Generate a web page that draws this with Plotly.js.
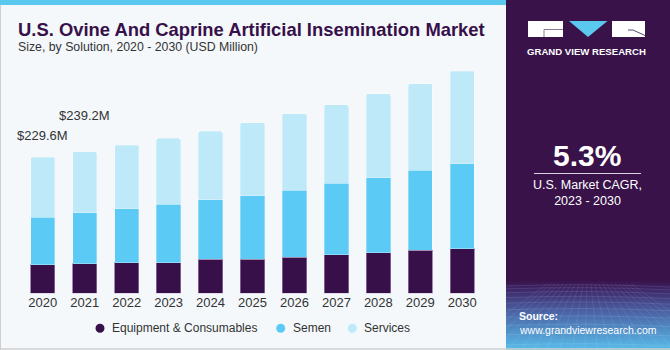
<!DOCTYPE html>
<html>
<head>
<meta charset="utf-8">
<script src="https://cdn.plot.ly/plotly-3.0.1.min.js"></script>
<style>
html,body{margin:0;padding:0;background:#F4F8FB;}
#chart{width:670px;height:350px;}
</style>
</head>
<body>
<div id="chart"></div>
<script>
// ---- data ----
var years = ['2020','2021','2022','2023','2024','2025','2026','2027','2028','2029','2030'];
var seriesNames = ['Equipment & Consumables','Semen','Services'];
var equipment = [47.8, 49.5, 51.7, 51.7, 57.9, 57.9, 60.8, 65.2, 68.5, 72.6, 75.3];
var semen     = [81.0, 86.1, 91.2, 98.6, 100.1, 106.9, 113.6, 120.5, 126.6, 135.1, 143.5];
var services  = [100.8, 103.6, 107.5, 111.4, 115.5, 123.2, 128.8, 132.7, 141.8, 146.2, 156.5];
var labeledYears = ['2020','2021'];
var cagrText = '5.3%';
var cagrLabel = 'U.S. Market CAGR,<br>2023 - 2030';
var titleText = 'U.S. Ovine And Caprine Artificial Insemination Market';
var subtitleText = 'Size, by Solution, 2020 - 2030 (USD Million)';

// ---- styling ----
var W = 670, H = 350;
function px(x){return x/W;}
function py(y){return 1 - y/H;}
var colors = ['#37104A','#5BCBF5','#BDE9F8'];
var baseFont = 'Liberation Sans, Arial, sans-serif';
var seriesVals = [equipment, semen, services];

var traces = seriesVals.map(function(v,i){
  return {
    type:'bar', x:years, y:v, name:seriesNames[i],
    marker:{color:colors[i], line:{width:i===0?1:0.6, color:i===0?'rgba(140,110,160,0.8)':'rgba(255,255,255,0.5)'}},
    showlegend:false, hoverinfo:'skip'
  };
});

var totals = years.map(function(_,k){return equipment[k]+semen[k]+services[k];});
var labelShift = [22, 36];

var annotations = [];
labeledYears.forEach(function(yr,i){
  var k = years.indexOf(yr);
  annotations.push({x:k, y:totals[k], xref:'x', yref:'y', text:'$'+totals[k].toFixed(1)+'M',
    showarrow:false, yshift:labelShift[i], yanchor:'middle', xanchor:'center',
    font:{family:baseFont, size:13, color:'#333333'}});
});
// title & subtitle
annotations.push({xref:'paper', yref:'paper', x:px(16), y:py(29.5), xanchor:'left', yanchor:'middle',
  text:'<b>'+titleText+'</b>', showarrow:false, font:{family:baseFont, size:18.4, color:'#37104A'}});
annotations.push({xref:'paper', yref:'paper', x:px(16), y:py(47.5), xanchor:'left', yanchor:'middle',
  text:subtitleText, showarrow:false, font:{family:baseFont, size:12.3, color:'#333333'}});
// legend (manual)
var legX = [100, 280.7, 352.3];
var shapes = [];
seriesNames.forEach(function(n,i){
  annotations.push({xref:'paper', yref:'paper', x:px(legX[i]+10), y:py(328), xanchor:'left', yanchor:'middle',
    text:n, showarrow:false, font:{family:baseFont, size:12, color:'#333333'}});
  shapes.push({type:'circle', xref:'paper', yref:'paper', x0:px(legX[i]-4.5), x1:px(legX[i]+4.5),
    y0:py(332.8), y1:py(323.8), fillcolor:colors[i], line:{width:0}, layer:'above'});
});
// right panel texts
annotations.push({xref:'paper', yref:'paper', x:px(587), y:py(155), xanchor:'center', yanchor:'middle',
  text:'<b>'+cagrText+'</b>', showarrow:false, font:{family:baseFont, size:30, color:'#FFFFFF'}});
annotations.push({xref:'paper', yref:'paper', x:px(587.5), y:py(193), xanchor:'center', yanchor:'middle',
  text:cagrLabel, showarrow:false, font:{family:baseFont, size:12.5, color:'#FFFFFF'}});
annotations.push({xref:'paper', yref:'paper', x:px(586.5), y:py(51.5), xanchor:'center', yanchor:'middle',
  text:'<b>GRAND VIEW RESEARCH</b>', showarrow:false, font:{family:baseFont, size:9.6, color:'#FFFFFF'}});
annotations.push({xref:'paper', yref:'paper', x:px(517), y:py(316), xanchor:'left', yanchor:'middle',
  text:'<b>Source:</b>', showarrow:false, font:{family:baseFont, size:10.5, color:'#FFFFFF'}});
annotations.push({xref:'paper', yref:'paper', x:px(517), y:py(330), xanchor:'left', yanchor:'middle',
  text:'www.grandviewresearch.com', showarrow:false, font:{family:baseFont, size:10.5, color:'#FFFFFF'}});

// decorative shapes
shapes.push({type:'rect', xref:'paper', yref:'paper', x0:px(0), x1:px(506), y0:py(0), y1:py(5), fillcolor:'#5BC8F0', line:{width:0}, layer:'below'});
shapes.push({type:'rect', xref:'paper', yref:'paper', x0:px(506), x1:px(670), y0:py(0), y1:py(350), fillcolor:'#381249', line:{width:0}, layer:'below'});
shapes.push({type:'line', xref:'paper', yref:'paper', x0:px(0.5), x1:px(0.5), y0:py(5), y1:py(350), line:{width:1, color:'#CFCFCF'}, layer:'below'});
shapes.push({type:'line', xref:'paper', yref:'paper', x0:px(0), x1:px(670), y0:py(349), y1:py(349), line:{width:1.5, color:'#CFCFCF'}, layer:'above'});
shapes.push({type:'line', xref:'paper', yref:'paper', x0:px(534), x1:px(641), y0:py(173.5), y1:py(173.5), line:{width:1, color:'#D8D0E0'}, layer:'above'});
// logo
shapes.push({type:'rect', xref:'paper', yref:'paper', x0:px(528), x1:px(563), y0:py(21), y1:py(37), fillcolor:'#FFFFFF', line:{width:0}, layer:'above'});
shapes.push({type:'path', xref:'paper', yref:'paper', path:'M '+px(563)+','+py(29.5)+' L '+px(544)+','+py(29.5)+' L '+px(544)+','+py(37), line:{width:1, color:'#8A7A95'}, layer:'above'});
shapes.push({type:'path', xref:'paper', yref:'paper', path:'M '+px(569)+','+py(21)+' L '+px(607.5)+','+py(21)+' L '+px(588)+','+py(37)+' Z', fillcolor:'#5BC8F0', line:{width:0}, layer:'above'});
shapes.push({type:'rect', xref:'paper', yref:'paper', x0:px(612), x1:px(645), y0:py(21), y1:py(37), fillcolor:'#FFFFFF', line:{width:0}, layer:'above'});
shapes.push({type:'path', xref:'paper', yref:'paper', path:'M '+px(628)+','+py(30)+' L '+px(633)+','+py(30)+' L '+px(645)+','+py(35.5), line:{width:1, color:'#5A4A70'}, layer:'above'});

// bottom gradient image of the panel
var svg = '<svg xmlns="http://www.w3.org/2000/svg" width="164" height="70" viewBox="0 0 164 70">'+
 '<defs><linearGradient id="g" x1="0" y1="0" x2="0" y2="1">'+
 '<stop offset="0" stop-color="#381249"/><stop offset="0.12" stop-color="#3C2466"/>'+
 '<stop offset="0.45" stop-color="#4A62A4"/><stop offset="1" stop-color="#58BDEB"/></linearGradient></defs>'+
 '<rect width="164" height="70" fill="url(#g)"/>';
for (var i=0;i<12;i++){ var yy = 6 + i*i*0.45 + i*2.5; svg += '<path d="M0 '+yy.toFixed(1)+' Q82 '+(yy-3).toFixed(1)+' 164 '+(yy+1).toFixed(1)+'" stroke="#ffffff" stroke-opacity="0.18" stroke-width="0.6" fill="none"/>'; }
for (var j=0;j<22;j++){ var xx = j*8; svg += '<path d="M'+(82+(xx-82)*0.5).toFixed(1)+' 4 L'+(82+(xx-82)*1.6).toFixed(1)+' 70" stroke="#ffffff" stroke-opacity="0.15" stroke-width="0.6" fill="none"/>'; }
svg += '</svg>';

var layout = {
  width:W, height:H,
  margin:{l:0,r:0,t:0,b:0},
  paper_bgcolor:'#F4F8FB', plot_bgcolor:'#F4F8FB',
  barmode:'stack', bargap:0.42, barcornerradius:2,
  font:{family:baseFont, color:'#333333'},
  xaxis:{type:'category', range:[-0.5,10.5], domain:[px(21.8), px(483.2)],
    showgrid:false, zeroline:false, showline:false, ticks:'', fixedrange:true,
    tickfont:{family:baseFont, size:13, color:'#333333'}},
  yaxis:{range:[0,400], domain:[py(293.3), py(56.4)], visible:false, fixedrange:true},
  showlegend:false,
  annotations:annotations,
  shapes:shapes,
  images:[{source:'data:image/svg+xml;charset=utf-8,'+encodeURIComponent(svg), xref:'paper', yref:'paper',
    x:px(506), y:py(280), sizex:164/W, sizey:70/H, sizing:'stretch', xanchor:'left', yanchor:'top', layer:'above'}]
};

Plotly.newPlot('chart', traces, layout, {displayModeBar:false, staticPlot:true});
</script>
</body>
</html>
